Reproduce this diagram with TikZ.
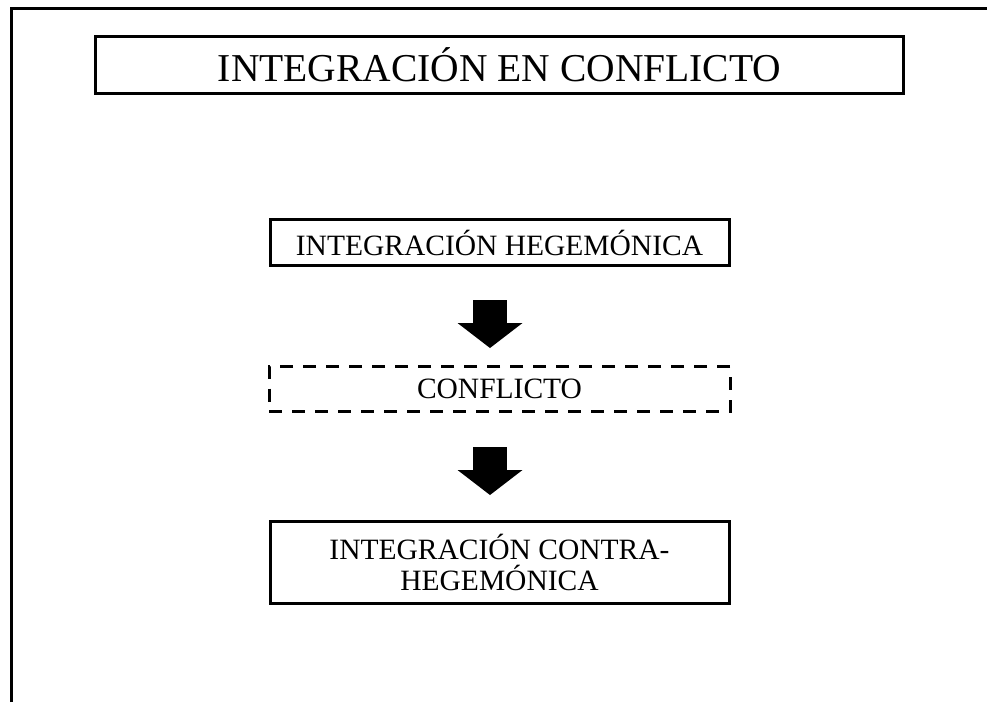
\documentclass[tikz,border=0pt]{standalone}
\usepackage{fontspec}
\setmainfont{Liberation Serif}
\usetikzlibrary{
  arrows.meta,
  positioning,
}
\tikzset{
  frame/.style={
    line width=3.5pt,
    draw=black
  },
  heading/.style={
    rectangle,
    minimum width=808pt,
    minimum height=57pt,
    inner sep=0pt,
    text centered,
    line width=3pt,
    draw=black,
    font=\fontsize{39.5}{44}\selectfont
  },
  stage/.style={
    rectangle,
    minimum width=459pt,
    minimum height=46pt,
    inner sep=0pt,
    text centered,
    align=center,
    line width=3pt,
    draw=black,
    font=\fontsize{29.5}{31}\selectfont
  },
  conflictbox/.style={
    stage,
    minimum width=461pt,
    minimum height=45pt,
    dash pattern=on 13pt off 10pt
  },
  blockarrow/.style={
    line width=34pt,
    -{Triangle[width=65pt,length=25pt,line width=0pt]},
    draw=black
  },
}

\begin{document}
\begin{tikzpicture}[
    x=1pt, y=-1pt,
  ]

  \useasboundingbox (0,0) rectangle (987,702);

  % Outer frame
  \draw [frame] (11.7,702) |- (987,8.3);

  % Boxes
  \node (title) [heading] at (499.5,65) {INTEGRACIÓN EN CONFLICTO};
  \node (hegemonic) [stage, below=123pt of title] {INTEGRACIÓN HEGEMÓNICA};
  \node (conflict) [conflictbox, below=98pt of hegemonic] {CONFLICTO};
  \node (counter) [stage, minimum height=82pt, below=107pt of conflict]
    {INTEGRACIÓN CONTRA-\\HEGEMÓNICA};

  % Arrows
  \draw [blockarrow, shorten <=33pt, shorten >=17pt]
    ([xshift=-9.5pt]hegemonic.south) -- ([xshift=-9.5pt]conflict.north);
  \draw [blockarrow, shorten <=34pt, shorten >=25pt]
    ([xshift=-9.5pt]conflict.south) -- ([xshift=-9.5pt]counter.north);

\end{tikzpicture}
\end{document}
